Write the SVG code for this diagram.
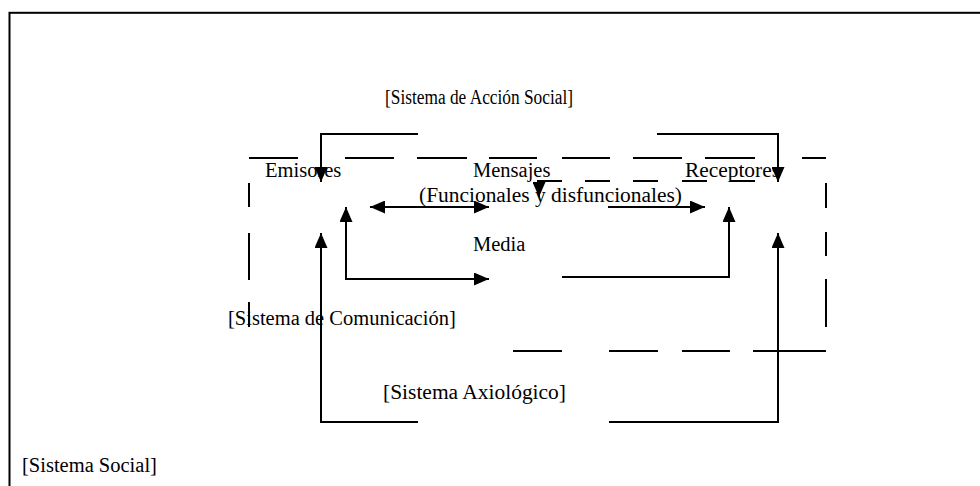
<svg xmlns="http://www.w3.org/2000/svg" width="980" height="486" viewBox="0 0 980 486">
<style>
text{font-family:"Liberation Serif","Times New Roman",serif;font-size:20.5px;fill:#000}
.ln{fill:none;stroke:#000;stroke-width:2}
.ds{fill:none;stroke:#000;stroke-width:2}
</style>
<defs>
<marker id="ah" viewBox="0 0 15 13" refX="15" refY="6.5" markerWidth="15" markerHeight="13" markerUnits="userSpaceOnUse" orient="auto-start-reverse">
<path d="M0,0 L15,6.5 L0,13 Z" fill="#000"/>
</marker>
</defs>
<rect width="980" height="486" fill="#fff"/>
<g id="sistema-social">
<rect x="9.5" y="12.8" width="1000" height="500" class="ln"/>
<text x="22" y="472">[Sistema Social]</text>
</g>
<g id="sistema-comunicacion">
<path class="ds" d="M249,158H298M345,158H394M417,158H467M489,158H537M562,158H610M633,158H682M705,158H755M802,158H826"/>
<path class="ds" d="M537,181H562M585,181H610M633,181H658M682,181H707M730,181H755"/>
<path class="ds" d="M249,183V207M249,233V280M249,302V327"/>
<path class="ds" d="M826,183V208M826,232V256M826,279V327"/>
<path class="ds" d="M513,351H562M609,351H658M682,351H730M753,351H826"/>
<text x="228" y="325">[Sistema de Comunicación]</text>
</g>
<g id="sistema-accion-social"><text x="385" y="104" textLength="188" lengthAdjust="spacingAndGlyphs">[Sistema de Acción Social]</text></g>
<g id="emisores"><text x="265" y="177">Emisores</text></g>
<g id="mensajes"><text x="473" y="177">Mensajes</text><text x="419" y="202" textLength="263" lengthAdjust="spacingAndGlyphs">(Funcionales y disfuncionales)</text></g>
<g id="receptores"><text x="685" y="177" textLength="95" lengthAdjust="spacingAndGlyphs">Receptores</text></g>
<g id="media"><text x="473" y="251">Media</text></g>
<g id="sistema-axiologico"><text x="383" y="399" textLength="183" lengthAdjust="spacingAndGlyphs">[Sistema Axiológico]</text></g>
<g id="connectors">
<path class="ln" d="M418,134H321V182" marker-end="url(#ah)"/>
<path class="ln" d="M657,134H778V182" marker-end="url(#ah)"/>
<path class="ln" d="M539,181V197" marker-end="url(#ah)"/>
<path class="ln" d="M370,207H489" marker-start="url(#ah)" marker-end="url(#ah)"/>
<path class="ln" d="M608,207H705" marker-end="url(#ah)"/>
<path class="ln" d="M346,207V279H489" marker-start="url(#ah)" marker-end="url(#ah)"/>
<path class="ln" d="M562,277H729V207" marker-end="url(#ah)"/>
<path class="ln" d="M418,422H321V233" marker-end="url(#ah)"/>
<path class="ln" d="M609,422H778V233" marker-end="url(#ah)"/>
</g>
</svg>
